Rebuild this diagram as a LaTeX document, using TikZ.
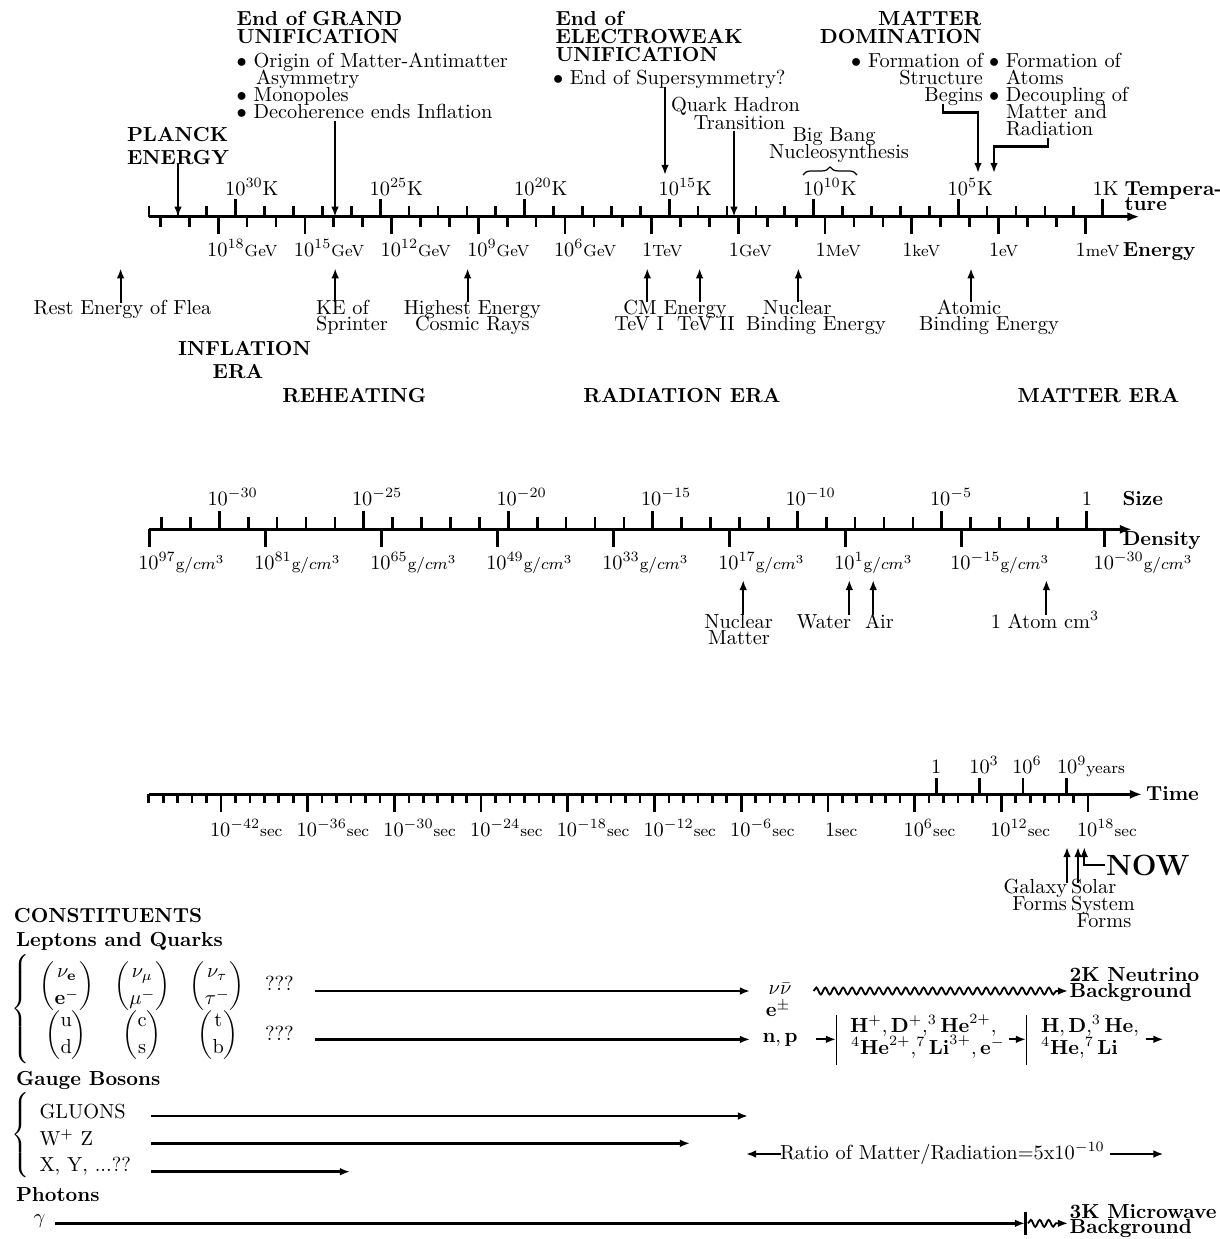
\documentclass[tikz,border=0pt]{standalone}
\usepackage{amsmath}
\usetikzlibrary{arrows.meta,decorations.pathreplacing,decorations.pathmorphing}
\tikzset{
  bfl/.style={font=\bfseries},
  axisln/.style={line width=1.3pt,-{Latex[length=6pt,width=4.6pt]}},
  tk/.style={line width=1.3pt},
  arr/.style={line width=1pt,-{Latex[length=5pt,width=3.8pt]}},
  elb/.style={line width=1.3pt,-{Latex[length=5pt,width=3.8pt]}},
  thinbar/.style={line width=0.5pt},
  wavy/.style={line width=0.9pt,decorate,decoration={snake,amplitude=1.7pt,segment length=4.4pt,post length=4pt}},
}
\begin{document}
\begin{tikzpicture}[x=0.492pt,y=-0.492pt,every node/.style={inner sep=0pt,outer sep=0pt}]
\useasboundingbox (0,0) rectangle (1220,1239);

% ================= TOP: temperature / energy axis =================
\coordinate (A1s) at (149,216.7);
\coordinate (A1e) at (1139.5,216.7);
\draw[axisln] (A1s) -- (A1e);
\foreach \k in {0,...,33} \draw[tk] ({149+28.9*\k},216.7) -- ++(0,-11);
\foreach \k in {3,8,...,33} \draw[tk] ({149+28.9*\k},216.7) -- ++(0,-18);
\foreach \j in {0,...,32} \draw[tk] ({160.4+28.9*\j},216.7) -- ++(0,10.5);
\foreach \j in {2,5,...,32} \draw[tk] ({160.4+28.9*\j},216.7) -- ++(0,17.5);

\foreach \k/\e in {3/30,8/25,13/20,18/15,23/10,28/5}
  \node[anchor=base west] (T\e) at ({149+28.9*\k-10.5},195) {$10^{\e}$K};
\node[anchor=base west] (T0) at ({149+28.9*33-10},195) {1K};
\node[bfl,anchor=base west] (temp1) at (1124.6,195) {Tempera-};
\node[bfl,anchor=base west] (temp2) at (1124.6,210.5) {ture};

\foreach \j/\e in {2/18,5/15,8/12,11/9,14/6}
  \node[anchor=base west] (E\e) at ({160.4+28.9*\j-11},256) {$10^{\e}${\footnotesize GeV}};
\foreach \j/\u in {17/TeV,20/GeV,23/MeV,26/keV,29/eV,32/meV}
  \node[anchor=base west] (E\u) at ({160.4+28.9*\j-9.5},256) {1{\footnotesize \u}};
\node[bfl,anchor=base west] (energy) at (1122.8,256) {Energy};

% ---- labels above the axis
\node[bfl,anchor=base west] (pl1) at (127,141.5) {PLANCK};
\node[bfl,anchor=base west] (pl2) at (127,164) {ENERGY};
\coordinate (plA) at (178,164); \coordinate (plB) at (178,216.7);
\draw[arr] (plA) -- (plB);

\node[bfl,anchor=base west] (gut1) at (236.7,25.5) {End of GRAND};
\node[bfl,anchor=base west] (gut2) at (236.7,43.3) {UNIFICATION};
\node[anchor=base west] (gut3) at (236.7,67) {$\bullet$ Origin of Matter-Antimatter};
\node[anchor=base west] (gut4) at (256,84) {Asymmetry};
\node[anchor=base west] (gut5) at (236.7,101) {$\bullet$ Monopoles};
\node[anchor=base west] (gut6) at (236.7,118) {$\bullet$ Decoherence ends Inflation};
\coordinate (gutA) at (335,121); \coordinate (gutB) at (335,216.7);
\draw[arr] (gutA) -- (gutB);

\node[bfl,anchor=base west] (ew1) at (555.5,25.5) {End of};
\node[bfl,anchor=base west] (ew2) at (555.5,43.3) {ELECTROWEAK};
\node[bfl,anchor=base west] (ew3) at (555.5,61) {UNIFICATION};
\node[anchor=base west] (ew4) at (553,84) {$\bullet$ End of Supersymmetry?};
\coordinate (ewA) at (665,87); \coordinate (ewB) at (665,175);
\draw[arr] (ewA) -- (ewB);

\node[anchor=base] (qh1) at (735.5,111.5) {Quark Hadron};
\node[anchor=base] (qh2) at (739.5,129) {Transition};
\coordinate (qhA) at (734,131); \coordinate (qhB) at (734,216.7);
\draw[arr] (qhA) -- (qhB);

\node[anchor=base] (bb1) at (834,141.5) {Big Bang};
\node[anchor=base] (bb2) at (839,158) {Nucleosynthesis};
\coordinate (brL) at (803,175); \coordinate (brR) at (857,175);
\draw[line width=0.6pt,decorate,decoration={brace,amplitude=4pt}] (brL) -- (brR);

\node[bfl,anchor=base east] (md1) at (981.5,25.5) {MATTER};
\node[bfl,anchor=base east] (md2) at (981.5,43) {DOMINATION};
\node[anchor=base east] (fs1) at (983,67.5) {$\bullet$ Formation of};
\node[anchor=base east] (fs2) at (983,84) {Structure};
\node[anchor=base east] (fs3) at (983,101) {Begins};
\node[anchor=base west] (fa1) at (989,67.5) {$\bullet$ Formation of};
\node[anchor=base west] (fa2) at (1006,84) {Atoms};
\node[anchor=base west] (fa3) at (989,101) {$\bullet$ Decoupling of};
\node[anchor=base west] (fa4) at (1006,118) {Matter and};
\node[anchor=base west] (fa5) at (1006,135) {Radiation};
\coordinate (eA1) at (943,103.5); \coordinate (eA2) at (943,112.3);
\coordinate (eA3) at (978,112.3); \coordinate (eA4) at (978,173);
\draw[elb] (eA1) -- (eA2) -- (eA3) -- (eA4);
\coordinate (eB1) at (1048,137.5); \coordinate (eB2) at (1048,146.7);
\coordinate (eB3) at (994,146.7); \coordinate (eB4) at (994,173);
\draw[elb] (eB1) -- (eB2) -- (eB3) -- (eB4);

% ---- labels below the axis
\node[anchor=base] (flea) at (122.5,314.5) {Rest Energy of Flea};
\coordinate (fleaA) at (120.6,303); \coordinate (fleaB) at (120.6,268.3);
\draw[arr] (fleaA) -- (fleaB);
\node[anchor=base west] (ke1) at (316,314.5) {KE of};
\node[anchor=base west] (ke2) at (316,330.5) {Sprinter};
\coordinate (keA) at (335.2,302); \coordinate (keB) at (335.2,268.3);
\draw[arr] (keA) -- (keB);
\node[anchor=base] (he1) at (472.3,314.5) {Highest Energy};
\node[anchor=base] (he2) at (472.3,330.5) {Cosmic Rays};
\coordinate (heA) at (467.6,302); \coordinate (heB) at (467.6,268.3);
\draw[arr] (heA) -- (heB);
\node[anchor=base] (cm1) at (675,314.5) {CM Energy};
\node[anchor=base] (cm2) at (639.2,330.5) {TeV I};
\node[anchor=base] (cm3) at (705.9,330.5) {TeV II};
\coordinate (cmA) at (647.3,302); \coordinate (cmB) at (647.3,268.3);
\draw[arr] (cmA) -- (cmB);
\coordinate (cmC) at (699.6,302); \coordinate (cmD) at (699.6,268.3);
\draw[arr] (cmC) -- (cmD);
\node[anchor=base] (nb1) at (797.4,314.5) {Nuclear};
\node[anchor=base] (nb2) at (816,330.5) {Binding Energy};
\coordinate (nbA) at (798.4,302); \coordinate (nbB) at (798.4,268.3);
\draw[arr] (nbA) -- (nbB);
\node[anchor=base] (ab1) at (969,314.5) {Atomic};
\node[anchor=base] (ab2) at (989,330.5) {Binding Energy};
\coordinate (abA) at (971,302); \coordinate (abB) at (971,268.3);
\draw[arr] (abA) -- (abB);

\node[bfl,anchor=base] (inf1) at (244.5,355) {INFLATION};
\node[bfl,anchor=base] (inf2) at (238,378.5) {ERA};
\node[bfl,anchor=base] (reh) at (354.3,402) {REHEATING};
\node[bfl,anchor=base] (rad) at (682,402) {RADIATION ERA};
\node[bfl,anchor=base] (mat) at (1098.4,402) {MATTER ERA};

% ================= MIDDLE: size / density =================
\coordinate (A2s) at (149.3,529.3);
\coordinate (A2e) at (1132,529.3);
\draw[axisln] (A2s) -- (A2e);
\foreach \n in {-32,...,0} \draw[tk] ({219.3+28.9*(\n+30)},529.3) -- ++(0,-12);
\foreach \n in {-30,-25,...,0} \draw[tk] ({219.3+28.9*(\n+30)},529.3) -- ++(0,-18);
\foreach \xx in {149.3,265.3,381.3,497.3,613.3,729.3,845.3,961.3,1104.6}
  \draw[tk] (\xx,529.3) -- ++(0,17.5);
\foreach \n/\xx [count=\i] in {-30/219.3,-25/363.8,-20/508.3,-15/652.8,-10/797.3,-5/941.8}
  \node[anchor=base west] (S\i) at ({\xx-11.8},505) {$10^{\n}$};
\node[anchor=base] (S0) at (1087,505) {1};
\node[bfl,anchor=base west] (size) at (1122.5,505) {Size};
\node[bfl,anchor=base west] (dens) at (1122.5,545) {Density};
\foreach \xx/\e [count=\i] in {149.3/97,265.3/81,381.3/65,497.3/49,613.3/33,729.3/17,845.3/1,961.3/-15,1104.6/-30}
  \node[anchor=base west] (D\i) at ({\xx-11},569) {$10^{\e}${\footnotesize g/$cm^3$}};

\node[anchor=base] (nm1) at (738.6,628) {Nuclear};
\node[anchor=base] (nm2) at (739,644) {Matter};
\coordinate (nmA) at (743.2,615); \coordinate (nmB) at (743.2,580);
\draw[arr] (nmA) -- (nmB);
\node[anchor=base east] (wat) at (851,628) {Water};
\coordinate (watA) at (849.3,615); \coordinate (watB) at (849.3,580);
\draw[arr] (watA) -- (watB);
\node[anchor=base west] (air) at (865,628) {Air};
\coordinate (airA) at (873.2,615); \coordinate (airB) at (873.2,580);
\draw[arr] (airA) -- (airB);
\node[anchor=base] (atom) at (1045,628) {1 Atom cm$^3$};
\coordinate (atA) at (1046.4,615); \coordinate (atB) at (1046.4,580);
\draw[arr] (atA) -- (atB);

% ================= TIME axis =================
\coordinate (A3s) at (149,794.3);
\coordinate (A3e) at (1142,794.3);
\draw[axisln] (A3s) -- (A3e);
\foreach \m in {-47,...,18} \draw[tk] ({221+14.45*(\m+42)},794.3) -- ++(0,9);
\foreach \m in {-42,-36,...,18} \draw[tk] ({221+14.45*(\m+42)},794.3) -- ++(0,18);
\foreach \xx in {936.3,979.6,1023,1066.3} \draw[tk] (\xx,794.3) -- ++(0,-16);
\foreach \m [count=\i] in {-42,-36,-30,-24,-18,-12,-6,6,12,18}
  \node[anchor=base west] (tl\i) at ({221+14.45*(\m+42)-11},836) {$10^{\m}${\footnotesize sec}};
\node[anchor=base west] (tl0) at (825,836) {1{\footnotesize sec}};
\node[anchor=base] (y0) at (936.3,773) {1};
\node[anchor=base west] (y3) at (969.4,773) {$10^3$};
\node[anchor=base west] (y6) at (1012.3,773) {$10^6$};
\node[anchor=base west] (y9) at (1057,773) {$10^9${\footnotesize years}};
\node[bfl,anchor=base west] (time) at (1146,800) {Time};

\coordinate (gaA) at (1067,883); \coordinate (gaB) at (1067,847);
\draw[arr] (gaA) -- (gaB);
\coordinate (soA) at (1078,883); \coordinate (soB) at (1078,847);
\draw[arr] (soA) -- (soB);
\coordinate (nwA) at (1105,865); \coordinate (nwB) at (1084.3,865); \coordinate (nwC) at (1084.3,847);
\draw[arr] (nwA) -- (nwB) -- (nwC);
\node[anchor=base west,font=\Large\bfseries] (now) at (1106,875) {NOW};
\node[anchor=base east] (gal1) at (1067,893) {Galaxy};
\node[anchor=base east] (gal2) at (1067,910) {Forms};
\node[anchor=base west] (sol1) at (1071,893) {Solar};
\node[anchor=base west] (sol2) at (1071,910) {System};
\node[anchor=base] (sol3) at (1104,927) {Forms};

% ================= CONSTITUENTS =================
\node[bfl,anchor=base west] (cons) at (14,922) {CONSTITUENTS};
\node[bfl,anchor=base west] (lq) at (16,946) {Leptons and Quarks};
\node[anchor=west] (br1) at (12,1009) {$\left\{\vrule height 24.5pt depth 24.5pt width 0pt\right.$};
\node (m1) at (66.8,985.8) {$\dbinom{\nu_{\mathbf e}}{\mathbf e^-}$};
\node (m2) at (142.3,985.8) {$\dbinom{\nu_\mu}{\mu^-}$};
\node (m3) at (217.3,985.8) {$\dbinom{\nu_\tau}{\tau^-}$};
\node (m4) at (66.2,1034.9) {$\dbinom{\mathrm u}{\mathrm d}$};
\node (m5) at (142.2,1034.9) {$\dbinom{\mathrm c}{\mathrm s}$};
\node (m6) at (218.3,1034.9) {$\dbinom{\mathrm t}{\mathrm b}$};
\node[anchor=base west] (q1) at (265,990) {???};
\node[anchor=base west] (q2) at (265,1040) {???};
\coordinate (l1A) at (315,991); \coordinate (l1B) at (750,991);
\draw[arr,line width=1.2pt] (l1A) -- (l1B);
\coordinate (l2A) at (315,1039.4); \coordinate (l2B) at (750,1039.4);
\draw[arr,line width=1.2pt] (l2A) -- (l2B);

\node[anchor=base] (nunu) at (780,994) {$\nu\bar\nu$};
\node[anchor=base] (epm) at (778,1016.5) {$\mathbf e^\pm$};
\node[anchor=base] (np) at (780,1042) {$\mathbf n,\mathbf p$};
\coordinate (wvA) at (813.5,991); \coordinate (wvB) at (1068,991);
\draw[wavy,-{Latex[length=5pt,width=3.8pt]}] (wvA) -- (wvB);
\node[bfl,anchor=base west] (nb2k) at (1069.7,981.7) {2K Neutrino};
\node[bfl,anchor=base west] (nb2kb) at (1069.7,997) {Background};

\coordinate (s1A) at (815.5,1039.3); \coordinate (s1B) at (836,1039.3);
\draw[arr] (s1A) -- (s1B);
\coordinate (v1A) at (836.5,1015); \coordinate (v1B) at (836.5,1065);
\draw[thinbar] (v1A) -- (v1B);
\node[anchor=base west] (h1) at (850,1032) {$\mathbf H^+,\mathbf D^+,^3\mathbf{He}^{2+},$};
\node[anchor=base west] (h2) at (851,1054) {$^4\mathbf{He}^{2+},^7\mathbf{Li}^{3+},\mathbf e^-$};
\coordinate (s2A) at (1009,1039.3); \coordinate (s2B) at (1026,1039.3);
\draw[arr] (s2A) -- (s2B);
\coordinate (v2A) at (1026.2,1015); \coordinate (v2B) at (1026.2,1065);
\draw[thinbar] (v2A) -- (v2B);
\node[anchor=base west] (h3) at (1041,1032) {$\mathbf H,\mathbf D,^3\mathbf{He},$};
\node[anchor=base west] (h4) at (1041,1054) {$^4\mathbf{He},^7\mathbf{Li}$};
\coordinate (s3A) at (1145.7,1039.3); \coordinate (s3B) at (1163.5,1039.3);
\draw[arr] (s3A) -- (s3B);

\node[bfl,anchor=base west] (gb) at (16,1085) {Gauge Bosons};
\node[anchor=west] (br2) at (12,1137.3) {$\left\{\vrule height 20.5pt depth 20.5pt width 0pt\right.$};
\node[anchor=base west] (glu) at (39.5,1118) {GLUONS};
\node[anchor=base west] (wz) at (39.5,1145.5) {W$^+$ Z};
\node[anchor=base west] (xy) at (39.5,1171.5) {X, Y, ...??};
\coordinate (g1A) at (151.4,1116); \coordinate (g1B) at (748,1116);
\draw[arr,line width=1.2pt] (g1A) -- (g1B);
\coordinate (g2A) at (151.4,1143.3); \coordinate (g2B) at (690,1143.3);
\draw[arr,line width=1.2pt] (g2A) -- (g2B);
\coordinate (g3A) at (151.4,1171.7); \coordinate (g3B) at (350,1171.7);
\draw[arr,line width=1.2pt] (g3A) -- (g3B);

\node[anchor=base west] (ratio) at (780,1159) {Ratio of Matter/Radiation=5x10$^{-10}$};
\coordinate (rtA) at (781,1154); \coordinate (rtB) at (746,1154);
\draw[arr] (rtA) -- (rtB);
\coordinate (rtC) at (1110,1154); \coordinate (rtD) at (1163.5,1154);
\draw[arr] (rtC) -- (rtD);

\node[bfl,anchor=base west] (ph) at (16,1201) {Photons};
\node[anchor=base west] (gam) at (33.6,1223.5) {$\gamma$};
\coordinate (phA) at (55.3,1223.3); \coordinate (phB) at (1025,1223.3);
\draw[arr,line width=1.2pt] (phA) -- (phB);
\coordinate (pbA) at (1025.5,1211.7); \coordinate (pbB) at (1025.5,1235);
\draw[tk] (pbA) -- (pbB);
\coordinate (pwA) at (1028,1223.3); \coordinate (pwB) at (1068,1223.3);
\draw[wavy,-{Latex[length=5pt,width=3.8pt]}] (pwA) -- (pwB);
\node[bfl,anchor=base west] (mw1) at (1069.7,1218.5) {3K Microwave};
\node[bfl,anchor=base west] (mw2) at (1069.7,1233) {Background};
\end{tikzpicture}
\end{document}
